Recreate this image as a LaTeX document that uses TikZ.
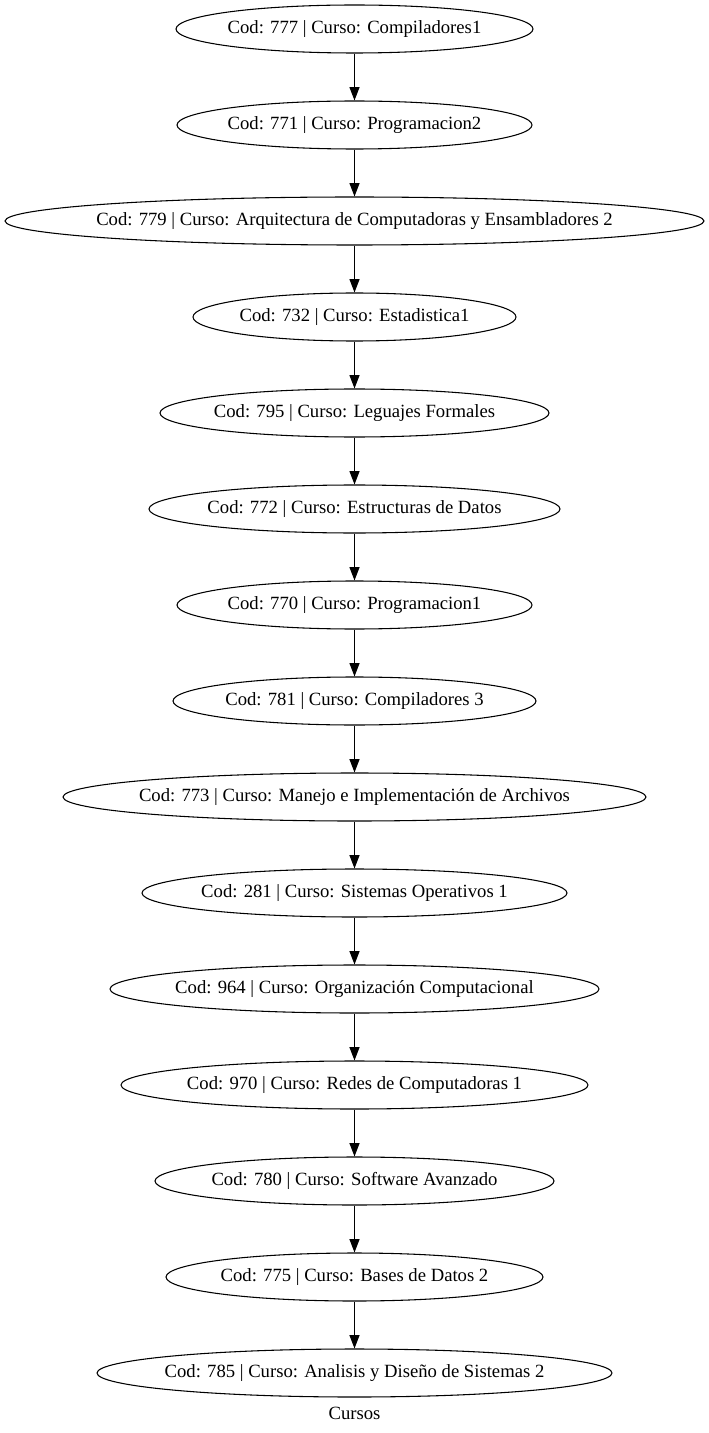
\documentclass[tikz,border=0pt]{standalone}
\usepackage{fontspec}
\setmainfont{Liberation Serif}
\usetikzlibrary{arrows.meta,shapes.geometric}
\tikzset{
	curso/.style={draw, ellipse, line width=0.8pt, inner sep=0pt, minimum height=36pt, font=\fontsize{14}{16}\selectfont},
	flecha/.style={line width=0.8pt, -{Triangle[length=10pt, width=7.5pt]}}
}

\begin{document}
\begin{tikzpicture}[x=0.75pt, y=-0.75pt]
			%%%%% START %%%%%
			
			\useasboundingbox (0, 0) rectangle (709, 1433);
			
			\node[curso, minimum width=267.75pt] (c777) at (354.5, 29) {\makebox[0pt]{Cod: 777 | Curso: Compiladores1}};
			\node[curso, minimum width=266.25pt] (c771) at (354.5, 125) {\makebox[0pt]{Cod: 771 | Curso: Programacion2}};
			\node[curso, minimum width=524.25pt] (c779) at (354.5, 221) {\makebox[0pt]{Cod: 779 | Curso: Arquitectura de Computadoras y Ensambladores 2}};
			\node[curso, minimum width=242.25pt] (c732) at (354.5, 317) {\makebox[0pt]{Cod: 732 | Curso: Estadistica1}};
			\node[curso, minimum width=291.75pt] (c795) at (354.5, 413) {\makebox[0pt]{Cod: 795 | Curso: Leguajes Formales}};
			\node[curso, minimum width=308.25pt] (c772) at (354.5, 509) {\makebox[0pt]{Cod: 772 | Curso: Estructuras de Datos}};
			\node[curso, minimum width=266.25pt] (c770) at (354.5, 605) {\makebox[0pt]{Cod: 770 | Curso: Programacion1}};
			\node[curso, minimum width=272.25pt] (c781) at (354.5, 701) {\makebox[0pt]{Cod: 781 | Curso: Compiladores 3}};
			\node[curso, minimum width=437.25pt] (c773) at (354.5, 797) {\makebox[0pt]{Cod: 773 | Curso: Manejo e Implementación de Archivos}};
			\node[curso, minimum width=318.75pt] (c281) at (354.5, 893) {\makebox[0pt]{Cod: 281 | Curso: Sistemas Operativos 1}};
			\node[curso, minimum width=366.75pt] (c964) at (354.5, 989) {\makebox[0pt]{Cod: 964 | Curso: Organización Computacional}};
			\node[curso, minimum width=350.25pt] (c970) at (354.5, 1085) {\makebox[0pt]{Cod: 970 | Curso: Redes de Computadoras 1}};
			\node[curso, minimum width=299.25pt] (c780) at (354.5, 1181) {\makebox[0pt]{Cod: 780 | Curso: Software Avanzado}};
			\node[curso, minimum width=282.75pt] (c775) at (354.5, 1277) {\makebox[0pt]{Cod: 775 | Curso: Bases de Datos 2}};
			\node[curso, minimum width=386.25pt] (c785) at (354.5, 1373) {\makebox[0pt]{Cod: 785 | Curso: Analisis y Diseño de Sistemas 2}};
			
			\draw[flecha] (c777) -- (c771);
			\draw[flecha] (c771) -- (c779);
			\draw[flecha] (c779) -- (c732);
			\draw[flecha] (c732) -- (c795);
			\draw[flecha] (c795) -- (c772);
			\draw[flecha] (c772) -- (c770);
			\draw[flecha] (c770) -- (c781);
			\draw[flecha] (c781) -- (c773);
			\draw[flecha] (c773) -- (c281);
			\draw[flecha] (c281) -- (c964);
			\draw[flecha] (c964) -- (c970);
			\draw[flecha] (c970) -- (c780);
			\draw[flecha] (c780) -- (c775);
			\draw[flecha] (c775) -- (c785);
			
			\node[font=\fontsize{14}{16}\selectfont] (titulo) at (354.5, 1413) {Cursos};
			
			%%%%% END %%%%%
\end{tikzpicture}
\end{document}
